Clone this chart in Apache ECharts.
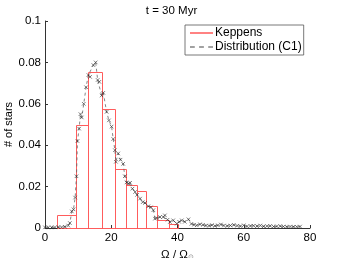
<!DOCTYPE html>
<html>
<head>
<meta charset="utf-8">
<script src="https://cdn.jsdelivr.net/npm/echarts@6/dist/echarts.min.js"></script>
<style>html,body{margin:0;padding:0;background:#fff}#c{width:343px;height:258px}</style>
</head>
<body>
<div id="c"></div>
<script>
var titleText = 't = 30 Myr';
var binEdges = [3.7, 9.5, 13.1, 17.3, 21.2, 24.6, 27.7, 30.4, 33.9, 37.5, 40.2];
var binHeights = [0.0065, 0.050, 0.0752, 0.0573, 0.0283, 0.021, 0.0178, 0.0105, 0.004, 0.002];
var distX = [0,1,2,3,4,5,6,7,7.5,8.1,8.6,9.1,9.5,9.8,10.3,10.7,11.1,11.7,12.4,13.1,13.6,14.6,15.3,15.9,16.4,17.1,17.6,18.6,19.3,20.1,20.6,21.1,21.4,22.1,22.8,23.6,24.1,24.6,25.2,25.7,26.4,27.2,27.8,28.7,29.5,30.2,31.2,32.0,32.7,33.2,33.7,34.7,35.7,36.2,37.0,37.7,38.7,39.8,40.5,41.3,42.2,43.3,44.2,45.0,45.8,46.8,47.7,48.6,49.5,50.4,51.3,52.2,53.1,54,55,56,57,58,59,60,61,62,63,64,65,66,67,68,69,70,71,72,73,74,75,76,77];
var distY = [0.0003,0.0003,0.0003,0.0003,0.0004,0.0004,0.0006,0.0012,0.0024,0.008,0.009,0.0147,0.025,0.042,0.048,0.055,0.0534,0.060,0.068,0.0739,0.073,0.0787,0.080,0.0715,0.0706,0.064,0.0653,0.0561,0.052,0.049,0.043,0.0376,0.032,0.036,0.033,0.031,0.025,0.022,0.0215,0.0218,0.019,0.0174,0.016,0.0142,0.0125,0.0121,0.0105,0.010,0.0086,0.0045,0.0048,0.0053,0.0053,0.0061,0.004,0.0029,0.0037,0.0021,0.003,0.0037,0.003,0.0042,0.002,0.0016,0.0013,0.0018,0.0015,0.0012,0.0011,0.0014,0.0010,0.0013,0.0017,0.0012,0.001,0.0012,0.0015,0.0011,0.0009,0.0013,0.0008,0.001,0.0011,0.0009,0.0012,0.0008,0.0009,0.001,0.0007,0.0008,0.0009,0.0007,0.0006,0.0007,0.0006,0.0006,0.0007];

var histData = binHeights.map(function (h, i) { return [binEdges[i], binEdges[i + 1], h]; });
var distData = distX.map(function (x, i) { return [x, distY[i]]; });

var red = '#ff5c5c';
var font = 'Liberation Sans, Arial, sans-serif';
var chart = echarts.init(document.getElementById('c'));
chart.setOption({
  animation: false,
  title: { text: titleText, left: 'center', top: 0, textStyle: { fontFamily: font, fontSize: 11.5, fontWeight: 'normal', color: '#000' } },
  grid: { left: 45, right: 33, top: 21, bottom: 30, outerBoundsMode: 'none', containLabel: false },
  legend: {
    orient: 'vertical', left: 185, top: 25, width: 120,
    backgroundColor: '#fff', borderColor: '#555', borderWidth: 0.8,
    padding: [2, 2, 2, 5], itemGap: 2, itemWidth: 23, itemHeight: 13,
    textStyle: { fontFamily: font, fontSize: 12, color: '#000', padding: [0, 0, 0, -3] },
    data: [
      { name: 'Keppens', icon: 'path://M0,5h24v1.6h-24z', itemStyle: { color: red, borderWidth: 0, opacity: 1 } },
      { name: 'Distribution (C1)', icon: 'path://M0,5h5v1.2h-5zM9.5,5h5v1.2h-5zM19,5h5v1.2h-5z', itemStyle: { color: '#444', borderWidth: 0, opacity: 1 } }
    ]
  },
  xAxis: {
    type: 'value', min: 0, max: 80, interval: 20,
    name: 'Ω / Ω{s|⊙}', nameLocation: 'middle', nameGap: 20, nameMoveOverlap: false,
    nameTextStyle: { fontFamily: font, fontSize: 11.5, color: '#000', rich: { s: { fontSize: 7, color: '#888', verticalAlign: 'bottom', padding: [6, 0, 0, 0] } } },
    axisLine: { lineStyle: { color: '#333', width: 1 } },
    axisTick: { inside: true, length: 3, lineStyle: { color: '#333' } },
    axisLabel: { fontFamily: font, fontSize: 11.5, color: '#000', margin: 4 },
    splitLine: { show: false }
  },
  yAxis: {
    type: 'value', min: 0, max: 0.1, interval: 0.02,
    name: '# of stars', nameLocation: 'middle', nameGap: 31, nameMoveOverlap: false,
    nameTextStyle: { fontFamily: font, fontSize: 11, color: '#000' },
    axisLine: { show: true, lineStyle: { color: '#333', width: 1 } },
    axisTick: { show: true, inside: true, length: 3, lineStyle: { color: '#333' } },
    axisLabel: { fontFamily: font, fontSize: 11.5, color: '#000', margin: 4 },
    splitLine: { show: false }
  },
  series: [
    {
      name: 'Keppens', type: 'custom', data: histData,
      encode: { x: [0, 1], y: 2 },
      itemStyle: { color: red },
      renderItem: function (params, api) {
        var p0 = api.coord([api.value(0), api.value(2)]);
        var p1 = api.coord([api.value(1), 0]);
        return { type: 'rect', shape: { x: Math.round(p0[0]) + 0.5, y: Math.round(p0[1]) + 0.5, width: Math.round(p1[0]) - Math.round(p0[0]), height: Math.round(p1[1]) - Math.round(p0[1]) }, style: { fill: 'none', stroke: red, lineWidth: 1 } };
      }
    },
    {
      name: 'Distribution (C1)', type: 'line', data: distData,
      symbol: 'path://M0,0L10,10M10,0L0,10', symbolSize: 3.5,
      showAllSymbol: true,
      lineStyle: { color: '#666', width: 0.8, type: [3, 3] },
      itemStyle: { color: 'transparent', borderColor: '#222', borderWidth: 0.6 }
    }
  ]
});
</script>
</body>
</html>
